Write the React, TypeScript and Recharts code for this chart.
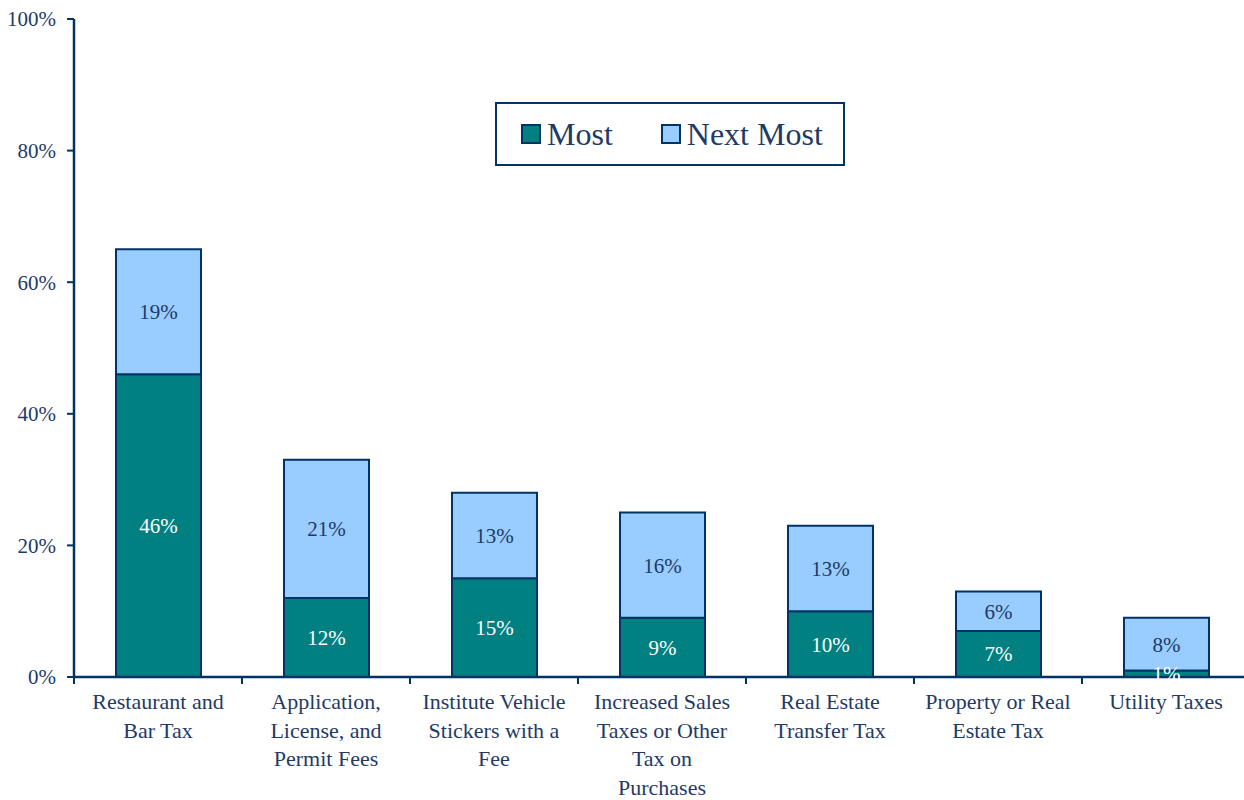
import { BarChart, Bar, XAxis, YAxis, Legend, LabelList } from "recharts";

const categories = [
  "Restaurant and\nBar Tax",
  "Application,\nLicense, and\nPermit Fees",
  "Institute Vehicle\nStickers with a\nFee",
  "Increased Sales\nTaxes or Other\nTax on\nPurchases",
  "Real Estate\nTransfer Tax",
  "Property or Real\nEstate Tax",
  "Utility Taxes",
];
const most = [46, 12, 15, 9, 10, 7, 1];
const nextMost = [19, 21, 13, 16, 13, 6, 8];
const yTicks = [0, 20, 40, 60, 80, 100];

const data = categories.map((name, i) => ({ name, most: most[i], nextMost: nextMost[i] }));

const NAVY = "#003366";
const TEXT = "#1f3a66";
const TEAL = "#008080";
const LIGHT = "#99ccff";
const FONT = "'Liberation Serif', serif";

const pct = (v: any) => `${v}%`;

function CategoryTick(props: any) {
  const { x, y, payload } = props;
  const half = payload.offset ?? 84;
  const lines = String(payload.value).split("\n");
  return (
    <g>
      <line x1={x - half} x2={x - half} y1={y} y2={y + 7} stroke={NAVY} strokeWidth={2} />
      <text x={x} y={y + 32} textAnchor="middle" fill={TEXT} fontSize={22} fontFamily={FONT}>
        {lines.map((l, i) => (
          <tspan key={i} x={x} dy={i === 0 ? 0 : 28.7}>{l}</tspan>
        ))}
      </text>
    </g>
  );
}

function LegendBox() {
  const swatch = (color: string) => (
    <span style={{ display: "inline-block", width: 16, height: 16, border: `2px solid ${NAVY}`, background: color, marginRight: 6 }} />
  );
  return (
    <div style={{
      boxSizing: "border-box", width: 350, height: 64, border: `2px solid ${NAVY}`, background: "#fff",
      display: "flex", alignItems: "center", paddingLeft: 24, fontFamily: FONT, fontSize: 32, color: TEXT,
    }}>
      <span style={{ display: "flex", alignItems: "center", marginRight: 48 }}>{swatch(TEAL)}Most</span>
      <span style={{ display: "flex", alignItems: "center" }}>{swatch(LIGHT)}Next Most</span>
    </div>
  );
}

export default function App() {
  return (
    <div style={{ position: "absolute", left: 0, top: 0, width: 1244, height: 800, overflow: "hidden", background: "#fff" }}>
      <BarChart width={1250} height={800} data={data} margin={{ top: 19, right: 0, left: 0, bottom: 0 }} barSize={85}>
        <XAxis
          dataKey="name"
          interval={0}
          height={123}
          tickSize={0}
          tickMargin={0}
          tickLine={false}
          axisLine={{ stroke: NAVY, strokeWidth: 2.5 }}
          tick={<CategoryTick />}
        />
        <YAxis
          width={74}
          domain={[0, 100]}
          ticks={yTicks}
          tickFormatter={pct}
          tickSize={7}
          tickMargin={11}
          axisLine={{ stroke: NAVY, strokeWidth: 2.5 }}
          tickLine={{ stroke: NAVY, strokeWidth: 2 }}
          tick={{ fill: TEXT, fontSize: 21, fontFamily: FONT }}
        />
        <Legend
          layout="horizontal"
          verticalAlign="middle"
          align="center"
          content={<LegendBox />}
          wrapperStyle={{ left: 495, top: 102, width: 350, height: 64 }}
        />
        <Bar dataKey="most" name="Most" stackId="a" fill={TEAL} stroke={NAVY} strokeWidth={2} isAnimationActive={false}>
          <LabelList dataKey="most" position="center" formatter={pct} fill="#ffffff" fontSize={21} fontFamily={FONT} />
        </Bar>
        <Bar dataKey="nextMost" name="Next Most" stackId="a" fill={LIGHT} stroke={NAVY} strokeWidth={2} isAnimationActive={false}>
          <LabelList dataKey="nextMost" position="center" formatter={pct} fill={TEXT} fontSize={21} fontFamily={FONT} />
        </Bar>
      </BarChart>
    </div>
  );
}
